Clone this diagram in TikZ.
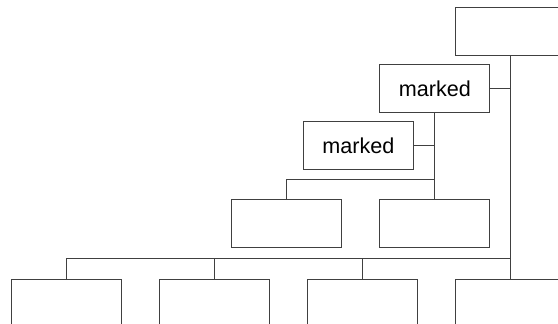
\documentclass[tikz,border=0pt]{standalone}
\usepackage{fontspec}
\setmainfont{Liberation Sans}
\usetikzlibrary{positioning}
\definecolor{boxrule}{HTML}{404040}

\begin{document}
\begin{tikzpicture}[
  font=\fontsize{10.8}{12}\selectfont,
  box/.style={draw=boxrule,fill=white,line width=0.5pt,minimum width=55pt,
              minimum height=24pt,inner sep=0pt},
  link/.style={draw=boxrule,line width=0.5pt}
]
\clip (-255.5pt,-146pt) rectangle (23.5pt,16pt);
\node[box] (top) at (0,0) {};
\node[box,below=4pt of top,xshift=-38pt] (mark1) {marked};
\node[box,below=4pt of mark1,xshift=-38.25pt] (mark2) {marked};
\node[box,below=14.5pt of mark2,xshift=38.25pt] (c2) {};
\node[box,left=18.5pt of c2] (c1) {};
\node[box,below=15.5pt of c2,xshift=38pt] (b4) {};
\node[box,left=18.5pt of b4] (b3) {};
\node[box,left=18.5pt of b3] (b2) {};
\node[box,left=18.5pt of b2] (b1) {};

\draw[link] (top.south) -- (b4.north);
\draw[link] (mark1.east) -- (mark1.east -| top.south);
\draw[link] (mark1.south) -- (c2.north);
\draw[link] (mark2.east) -- (mark2.east -| mark1.south);
\coordinate (cbus) at ([yshift=10pt]c2.north);
\draw[link] (c1.north) |- (cbus);
\coordinate (bbus) at ([yshift=10.5pt]b4.north);
\draw[link] (b1.north) |- (bbus);
\draw[link] (b2.north) -- (b2.north |- bbus);
\draw[link] (b3.north) -- (b3.north |- bbus);
\end{tikzpicture}
\end{document}
